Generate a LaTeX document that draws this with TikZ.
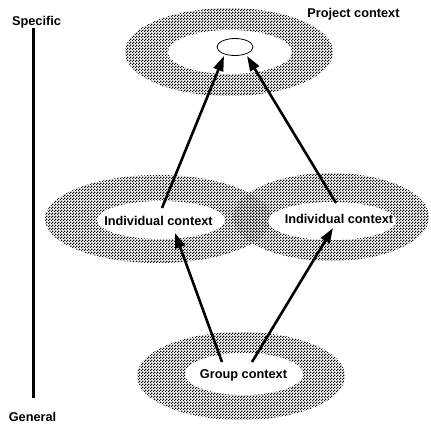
\documentclass[tikz,border=0pt]{standalone}
\usepackage{fontspec}
\setmainfont{Liberation Sans}
\usetikzlibrary{patterns,arrows.meta}
\pgfdeclarepatternformonly{ringdots}{\pgfqpoint{0bp}{0bp}}{\pgfqpoint{3bp}{3bp}}{\pgfqpoint{3bp}{3bp}}{%
  \pgfpathrectangle{\pgfqpoint{0bp}{0bp}}{\pgfqpoint{1.5bp}{1.5bp}}%
  \pgfpathrectangle{\pgfqpoint{1.5bp}{1.5bp}}{\pgfqpoint{1.5bp}{1.5bp}}%
  \pgfusepath{fill}}
\begin{document}
\begin{tikzpicture}[x=1bp,y=-1bp,
  ringband/.style={pattern=ringdots, pattern color=black},
  hole/.style={fill=white},
  lbl/.style={font=\fontsize{12.8}{15}\selectfont\bfseries, inner sep=0pt, anchor=base},
  link/.style={line width=2.6bp, -{Triangle[length=15bp,width=10bp]}}]
\useasboundingbox (0,0) rectangle (431,428);
% ring centres
\coordinate (topc) at (229,52);
\coordinate (tophole) at (230,52);
\coordinate (leftc) at (158,219);
\coordinate (lefthole) at (161,220);
\coordinate (rightc) at (331,217);
\coordinate (righthole) at (332,221);
\coordinate (botc) at (241,376);
\coordinate (bothole) at (244,374);
% patterned bands
\fill[ringband] (topc) ellipse [x radius=104, y radius=44];
\fill[ringband] (leftc) ellipse [x radius=113, y radius=44];
\fill[ringband] (rightc) ellipse [x radius=98, y radius=44];
\fill[ringband] (botc) ellipse [x radius=104, y radius=44];
% white holes
\fill[hole] (tophole) ellipse [x radius=62, y radius=22];
\fill[hole] (lefthole) ellipse [x radius=64, y radius=19];
\fill[hole] (righthole) ellipse [x radius=64, y radius=19];
\fill[hole] (bothole) ellipse [x radius=59, y radius=21];
% small project ellipse
\coordinate (projc) at (235,47);
\draw[fill=white, line width=0.8bp] (projc) ellipse [x radius=18, y radius=8.5];
% scale line
\coordinate (vtop) at (33.5,28);
\coordinate (vbot) at (33.5,398);
\draw[line width=2.5bp] (vtop) -- (vbot);
% labels
\node[lbl] (spec) at (36.5,25) {Specific};
\node[lbl] (proj) at (353.5,17.5) {Project context};
\node[lbl] (gen) at (32.5,421) {General};
\node[lbl] (ind1) at (158.5,225.7) {Individual context};
\node[lbl] (ind2) at (339,223) {Individual context};
\node[lbl] (grp) at (243.5,378) {Group context};
% arrow ends
\coordinate (g1) at (222,362);
\coordinate (i1b) at (175,233);
\coordinate (g2) at (252,362);
\coordinate (i2b) at (333,228);
\coordinate (i1t) at (162,208);
\coordinate (p1) at (224,56);
\coordinate (i2t) at (336,203);
\coordinate (p2) at (247,56);
\draw[link] (g1) -- (i1b);
\draw[link] (g2) -- (i2b);
\draw[link] (i1t) -- (p1);
\draw[link] (i2t) -- (p2);
\end{tikzpicture}
\end{document}
